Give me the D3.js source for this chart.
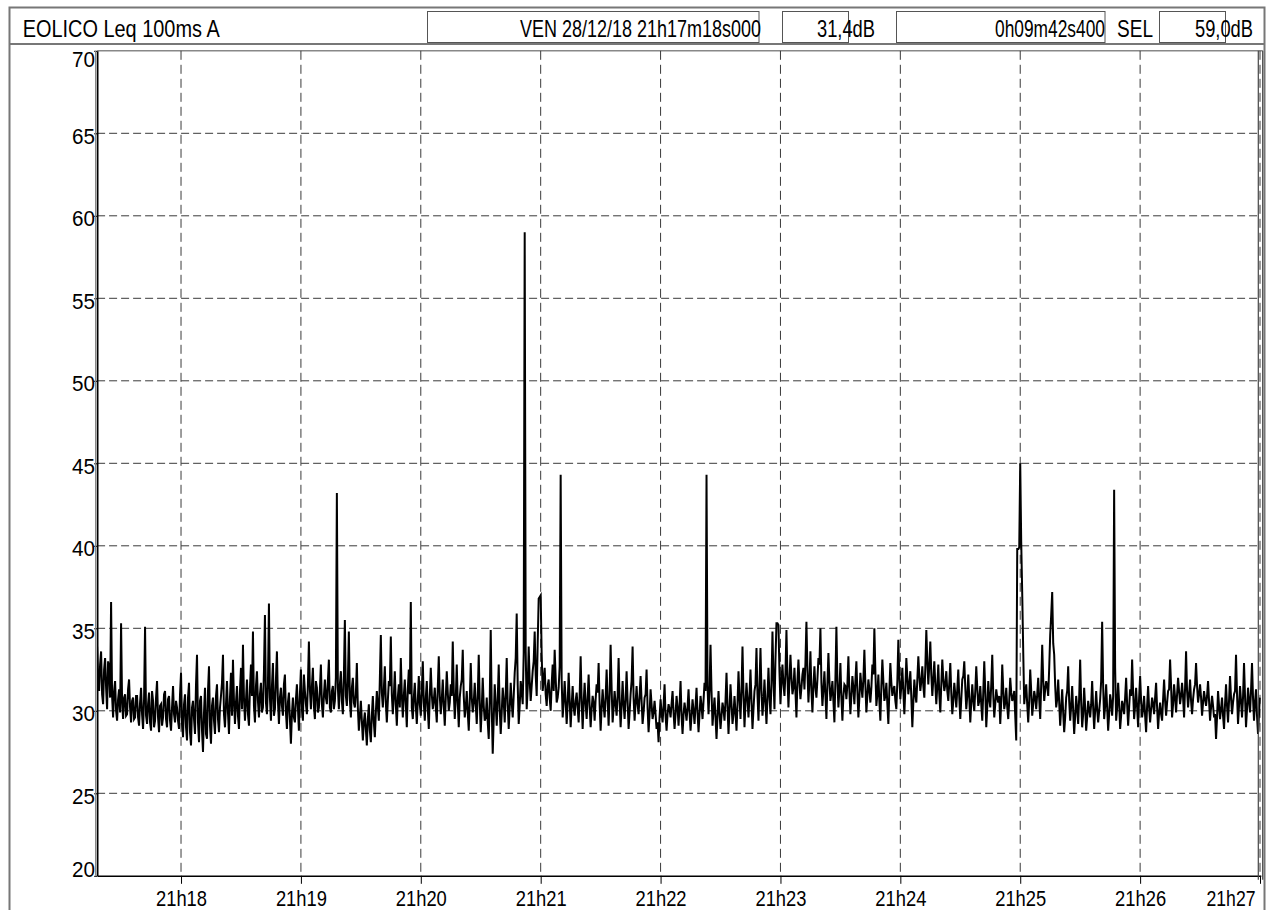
<!DOCTYPE html>
<html><head><meta charset="utf-8">
<script src="https://cdn.jsdelivr.net/npm/d3@7"></script>
<style>html,body{margin:0;padding:0;background:#fff;}svg{display:block;}</style>
</head><body>
<svg id="chart" width="1268" height="910"></svg>
<script>
// ---------- data ----------
const title = "EOLICO Leq 100ms A";
const headerFields = ["VEN 28/12/18 21h17m18s000", "31,4dB", "0h09m42s400", "SEL", "59,0dB"];
const startTime = Date.UTC(2018, 11, 28, 21, 17, 18);
const stepMs = 1000;
const durationMs = 582400;
const yTicks = [20, 25, 30, 35, 40, 45, 50, 55, 60, 65, 70];
// readings on each whole second
const levels = [
33.9,31.2,33.6,30.4,33.2,30.1,32.6,36.6,29.6,31.8,29.4,31.3,35.3,29.5,31.0,29.8,31.9,29.3,30.8,29.6,
30.9,29.1,31.4,28.9,35.1,29.2,31.1,28.8,30.6,29.4,31.8,28.7,30.4,29.6,31.2,29.0,30.9,28.8,31.5,29.3,
30.2,28.9,32.3,28.4,31.0,28.2,31.7,27.9,30.6,28.6,33.4,28.1,30.9,27.5,31.4,28.3,32.7,28.0,30.8,28.6,
31.6,28.7,30.9,33.4,29.0,31.8,28.6,32.3,33.1,29.2,31.5,28.9,32.6,34.0,29.4,31.9,29.1,32.8,34.8,29.3,
32.4,29.6,31.7,30.2,35.8,29.8,36.5,29.4,32.9,30.1,33.6,29.2,31.4,29.7,32.2,28.9,31.1,28.0,30.8,29.3,
31.6,28.8,32.5,29.4,31.2,29.8,34.2,30.1,32.6,29.5,31.4,30.2,32.8,29.6,31.9,30.4,33.1,29.9,31.5,30.6,
43.2,30.1,32.4,29.8,35.5,30.3,34.8,29.6,32.0,30.2,32.9,28.8,30.6,28.2,29.9,27.9,30.4,28.1,30.9,28.4,
31.2,29.4,34.6,30.2,32.7,29.3,31.8,34.5,29.8,32.4,29.1,31.6,33.2,29.6,31.9,29.0,32.5,36.6,29.5,31.7,
29.2,32.1,29.7,33.0,29.4,31.8,28.9,32.6,30.1,31.4,29.3,33.3,29.8,31.9,29.1,32.4,30.0,31.6,34.2,29.5,
32.8,29.0,31.5,33.7,29.6,31.2,28.8,32.9,29.9,31.7,29.2,33.4,28.7,32.0,29.4,30.8,28.3,34.9,27.4,31.6,
29.1,32.8,28.6,31.4,29.3,33.2,28.9,31.7,29.6,32.3,35.9,29.2,31.8,30.4,59.0,30.1,33.9,30.6,32.4,34.8,
30.9,36.8,37.0,31.2,32.6,30.3,31.9,30.0,32.8,33.7,30.5,31.4,44.3,29.6,31.8,29.2,32.3,29.0,31.5,29.7,
31.1,29.3,33.3,28.9,31.7,29.5,32.2,29.0,30.9,29.4,31.6,32.9,28.8,31.3,29.6,32.5,29.1,34.0,29.3,31.2,
29.7,33.2,29.0,31.8,29.5,32.4,28.9,31.0,33.9,29.4,31.5,29.8,32.1,29.2,30.8,32.5,28.7,31.3,29.5,30.6,
28.9,28.1,30.7,29.3,31.6,28.8,30.4,29.6,31.2,28.9,30.9,29.1,31.8,28.6,30.5,29.4,31.3,28.8,30.7,29.2,
31.4,28.7,30.9,29.5,31.7,44.3,29.8,34.0,29.1,30.8,28.3,31.2,28.9,30.5,29.4,32.3,28.6,31.6,29.2,30.9,
28.8,32.4,29.5,33.9,29.0,31.7,29.6,32.5,28.9,31.2,33.8,29.4,33.8,29.7,31.9,29.2,32.6,29.8,34.8,30.1,
35.3,35.2,30.4,32.8,30.9,34.9,30.2,33.4,31.0,32.6,29.6,33.1,30.7,32.2,31.3,35.4,30.5,33.6,29.9,32.7,
30.8,33.2,35.0,30.3,32.4,29.5,33.5,30.6,31.8,29.3,35.1,30.2,32.9,29.4,31.6,30.7,33.3,29.8,32.1,30.4,
33.0,29.6,32.3,30.8,33.7,29.9,31.9,30.5,32.8,35.0,30.3,32.2,29.4,33.1,30.6,31.7,29.2,32.9,30.9,31.5,
30.1,34.3,30.7,32.6,29.8,33.2,31.0,32.4,29.0,31.9,30.5,33.3,31.2,32.7,30.8,34.9,31.6,34.2,30.9,33.0,
30.4,32.8,29.9,33.1,31.2,32.4,30.6,32.9,29.8,31.7,30.2,32.5,29.5,31.9,33.0,30.1,32.2,29.3,31.6,30.0,
32.7,30.3,31.5,29.4,33.0,29.0,31.8,30.2,33.4,29.6,31.3,30.5,29.2,32.8,30.1,31.4,29.5,32.0,30.6,31.2,
28.2,39.8,45.0,37.1,30.4,31.6,29.3,32.5,29.7,31.2,30.1,32.0,29.5,34.0,30.6,31.8,30.9,34.6,37.2,33.4,
30.2,31.9,29.1,31.3,28.7,30.8,32.7,29.4,31.5,28.6,30.9,29.2,33.1,29.0,31.4,28.8,30.6,29.6,31.8,28.9,
31.2,29.3,30.7,35.4,29.5,31.6,28.8,31.0,29.7,43.4,29.4,31.7,28.9,30.6,29.8,32.0,29.1,31.3,33.1,29.5,
31.4,29.0,32.1,29.6,30.9,28.7,31.5,29.3,30.8,29.8,31.7,28.9,30.5,29.4,31.9,29.7,31.2,33.1,29.6,31.6,
29.9,32.0,30.4,31.7,29.6,33.6,30.2,31.9,29.8,31.3,32.9,30.5,31.6,29.7,31.2,30.3,31.8,29.4,30.9,29.6,
28.3,31.2,29.5,30.8,28.9,31.6,29.3,32.1,29.8,31.0,33.4,29.2,31.5,29.6,32.9,29.0,31.4,29.9,32.9,29.4,
31.3,28.6,30.8
];
// readings half a second after each whole second
const halfLevels = [
32.1,32.8,31.0,32.5,31.4,33.0,30.8,30.9,31.2,30.0,30.7,29.9,30.6,30.8,29.7,31.3,30.2,30.6,29.5,30.9,
29.6,30.5,29.8,30.7,29.7,30.4,29.3,31.2,29.0,30.8,29.6,30.3,29.1,31.0,29.5,30.7,29.4,30.2,29.8,30.6,
29.4,31.0,29.2,30.4,29.0,30.8,28.7,30.2,29.5,31.6,29.3,30.6,28.8,29.9,28.6,31.2,29.1,30.3,29.4,30.9,
29.5,30.2,31.7,29.8,30.4,29.9,30.8,29.7,30.6,30.5,29.7,31.2,30.1,30.8,30.6,29.8,31.4,30.9,30.3,31.5,
30.6,31.0,29.9,32.4,30.5,31.6,30.8,31.5,29.7,31.9,30.6,30.8,30.3,31.6,29.9,30.5,29.5,29.8,29.6,30.7,
30.2,31.0,30.1,32.2,30.4,31.6,31.3,31.5,30.3,31.8,29.9,31.3,30.4,30.9,30.8,31.8,30.2,31.2,30.1,32.0,
31.4,31.6,30.6,32.1,30.9,31.8,30.7,31.4,30.5,31.0,30.2,29.7,29.4,29.3,28.9,29.5,28.8,29.7,29.3,29.9,
30.3,31.9,31.1,31.3,30.5,30.6,31.5,31.0,30.9,30.4,30.8,30.2,31.0,30.9,30.4,31.3,31.0,30.2,30.8,30.3,
30.6,30.4,31.2,30.5,30.8,30.1,30.9,31.0,30.6,30.2,31.4,30.9,30.7,30.3,30.8,31.1,30.5,30.9,31.2,30.7,
30.5,30.8,31.9,30.9,30.2,29.9,30.6,30.8,30.5,30.4,30.9,30.6,30.1,30.3,29.6,29.3,30.6,30.2,29.5,30.4,
30.7,30.1,29.9,30.6,31.0,30.4,30.2,30.5,30.9,33.2,31.6,30.3,31.2,33.5,33.6,31.4,31.8,31.5,33.0,32.2,
34.1,36.9,33.4,31.9,31.0,31.5,30.8,31.6,31.2,32.0,30.8,32.7,31.9,30.5,30.6,30.4,30.7,30.3,30.2,30.6,
30.2,30.9,30.6,30.5,30.4,30.8,30.3,30.1,30.5,30.7,31.1,30.4,30.2,30.3,30.8,30.7,31.0,31.4,30.2,30.4,
30.9,30.6,30.3,30.4,30.7,30.6,29.9,31.8,30.8,30.5,30.4,30.9,30.6,29.9,31.0,30.2,29.8,30.4,29.9,29.8,
29.3,29.6,29.9,30.3,29.7,29.8,30.1,30.4,29.9,29.8,30.2,30.3,29.7,29.8,30.0,30.2,29.9,29.7,30.0,30.3,
29.9,29.8,30.3,30.6,31.2,31.5,31.3,31.2,30.0,29.6,29.7,29.9,29.7,30.1,30.6,30.3,30.1,30.4,29.8,29.9,
30.4,30.8,31.2,31.0,30.5,30.7,30.9,30.6,30.1,31.6,31.0,31.5,31.2,30.6,30.5,30.8,30.9,31.6,32.0,33.1,
35.3,32.4,31.8,31.6,32.3,32.1,31.9,32.0,31.4,31.2,31.8,31.7,31.4,32.6,32.9,32.5,31.8,31.2,31.5,31.4,
31.9,32.8,31.7,31.3,31.0,31.6,31.8,31.1,30.6,31.9,31.8,31.3,30.8,30.9,31.5,31.6,31.2,30.9,31.4,31.8,
31.2,30.8,31.5,31.9,31.6,30.9,31.3,31.4,32.2,32.4,31.0,30.6,31.5,31.8,30.9,30.4,31.2,31.7,31.3,30.6,
31.8,32.0,31.5,31.2,31.3,32.0,31.6,30.8,30.5,31.0,31.9,32.1,31.8,31.5,32.6,33.0,32.8,32.2,31.9,31.6,
31.5,31.0,31.6,31.9,31.6,31.2,31.7,31.1,30.6,31.0,31.3,30.8,30.7,32.1,31.4,30.9,30.8,30.5,30.6,31.2,
31.4,30.6,30.4,31.1,31.2,30.2,30.7,31.6,31.0,30.4,30.8,30.9,30.6,31.3,30.5,30.2,30.6,31.1,30.8,29.7,
39.8,39.9,40.2,33.6,31.1,30.4,30.6,31.2,30.4,30.8,31.0,30.7,31.6,31.9,31.3,31.5,32.6,35.8,34.1,31.5,
30.7,30.5,30.2,29.9,29.6,31.2,30.6,30.3,30.0,29.7,30.1,30.8,30.5,29.8,30.2,29.6,30.1,30.4,30.2,30.0,
30.1,30.0,31.8,31.5,30.3,30.2,29.8,30.5,30.9,32.6,30.2,30.5,29.7,30.3,30.8,30.4,30.2,30.9,31.2,30.3,
30.2,30.8,30.6,30.1,29.7,30.3,30.2,30.1,30.4,30.8,30.2,29.9,29.8,30.7,30.6,30.5,31.3,31.5,30.4,30.8,
31.0,31.2,30.9,30.8,31.4,31.2,31.0,30.6,30.7,31.6,31.5,31.0,30.8,30.5,30.7,30.9,30.6,30.2,30.3,29.8,
29.6,30.3,30.1,29.7,30.4,30.3,30.6,30.8,30.5,31.2,31.0,30.3,30.6,30.8,30.9,30.1,30.6,31.2,30.8,30.5,
29.7,29.8
];

// ---------- layout ----------
const svg = d3.select("#chart");
const FONT = "'Liberation Sans Narrow','Arial Narrow','Liberation Sans',Arial,sans-serif";
const plot = {left: 97.1, right: 1260.8, top: 50.8, bottom: 875.8};

const x = d3.scaleUtc()
  .domain([new Date(startTime), new Date(startTime + durationMs)])
  .range([plot.left, plot.right]);
const y = d3.scaleLinear().domain([20, 70]).range([plot.bottom, plot.top]);

// build the time series from the two reading arrays
const series = [];
levels.forEach((v, i) => {
  series.push({t: new Date(startTime + i * stepMs), v});
  if (i < halfLevels.length) series.push({t: new Date(startTime + i * stepMs + stepMs / 2), v: halfLevels[i]});
});

// outer frame + header
svg.append("rect").attr("x", 9.5).attr("y", 7.5).attr("width", 1255).attr("height", 940)
  .attr("fill", "none").attr("stroke", "#777").attr("stroke-width", 2);
svg.append("line").attr("x1", 9).attr("x2", 1265).attr("y1", 44).attr("y2", 44)
  .attr("stroke", "#777").attr("stroke-width", 2);

const boxes = [
  {x: 427.5, w: 331.5}, {x: 782.5, w: 66}, {x: 896.5, w: 208.5}, {x: 1159.5, w: 66}
];
svg.selectAll("rect.hbox").data(boxes).join("rect").attr("class", "hbox")
  .attr("x", d => d.x).attr("y", 11.5).attr("width", d => d.w).attr("height", 31)
  .attr("fill", "none").attr("stroke", "#555").attr("stroke-width", 1);

function txt(s, xx, yy, size, len, anchor) {
  const t = svg.append("text").attr("x", xx).attr("y", yy)
    .attr("font-family", FONT).attr("font-size", size).attr("fill", "#000")
    .text(s);
  if (len) t.attr("textLength", len).attr("lengthAdjust", "spacingAndGlyphs");
  if (anchor) t.attr("text-anchor", anchor);
  return t;
}
txt(title, 22.7, 37.3, 23, 197);
const headerPos = [{x: 520, len: 241}, {x: 817, len: 58}, {x: 995, len: 110}, {x: 1117, len: 36}, {x: 1195, len: 58}];
headerFields.forEach((s, i) => txt(s, headerPos[i].x, 37.3, 24, headerPos[i].len));

// plot frame
const g = svg.append("g");
g.append("line").attr("x1", plot.left).attr("x2", 1262.7).attr("y1", plot.top).attr("y2", plot.top)
  .attr("stroke", "#888").attr("stroke-width", 1.5);

// gridlines
const minuteTicks = x.ticks(d3.utcMinute.every(1));
g.selectAll("line.hgrid").data(yTicks.filter(v => v > 20 && v < 70)).join("line").attr("class", "hgrid")
  .attr("x1", plot.left).attr("x2", plot.right).attr("y1", d => y(d)).attr("y2", d => y(d))
  .attr("stroke", "#3a3a3a").attr("stroke-width", 1).attr("stroke-dasharray", "8,4");
g.selectAll("line.vgrid").data(minuteTicks).join("line").attr("class", "vgrid")
  .attr("x1", d => x(d)).attr("x2", d => x(d)).attr("y1", plot.top).attr("y2", plot.bottom)
  .attr("stroke", "#3a3a3a").attr("stroke-width", 1).attr("stroke-dasharray", "9,5");

// data line
svg.append("defs").append("clipPath").attr("id", "clip").append("rect")
  .attr("x", plot.left).attr("y", plot.top).attr("width", plot.right - plot.left).attr("height", plot.bottom - plot.top);
const line = d3.line().x(d => x(d.t)).y(d => y(d.v));
g.append("path").datum(series).attr("d", line).attr("clip-path", "url(#clip)")
  .attr("fill", "none").attr("stroke", "#000").attr("stroke-width", 2.0).attr("stroke-linejoin", "miter");

// x axis
const fmt = d => d.getUTCHours() + "h" + String(d.getUTCMinutes()).padStart(2, "0");
const xAxis = g.append("g").attr("transform", `translate(0,${plot.bottom})`)
  .call(d3.axisBottom(x).ticks(d3.utcMinute.every(1)).tickFormat(fmt).tickSize(8).tickSizeOuter(0));
xAxis.select(".domain").attr("stroke", "#000").attr("stroke-width", 1.5);
xAxis.selectAll(".tick line").attr("stroke", "#000");
const nT = minuteTicks.length;
xAxis.selectAll(".tick text")
  .attr("font-family", FONT).attr("font-size", 22).attr("fill", "#000")
  .attr("y", 30).attr("dy", 0)
  .attr("textLength", 51).attr("lengthAdjust", "spacingAndGlyphs")
  .each(function (d, i) {
    if (i === nT - 1) d3.select(this).attr("text-anchor", "end").attr("x", -5).attr("textLength", 49);
  });

// y axis
const yAxis = g.append("g").attr("transform", `translate(${plot.left},0)`)
  .call(d3.axisLeft(y).tickValues(yTicks).tickSize(3).tickSizeOuter(0));
yAxis.select(".domain").attr("stroke", "#000").attr("stroke-width", 1.8);
yAxis.selectAll(".tick line").attr("stroke", "#000");
yAxis.selectAll(".tick text")
  .attr("font-family", FONT).attr("font-size", 22).attr("fill", "#000")
  .attr("x", -2).attr("dy", 0)
  .attr("y", d => Math.max(66, Math.min(876, y(d) + 10)) - y(d))
  .attr("textLength", 23).attr("lengthAdjust", "spacingAndGlyphs");
g.append("line").attr("x1", 95.5).attr("x2", 95.5).attr("y1", plot.top).attr("y2", plot.bottom)
  .attr("stroke", "#888").attr("stroke-width", 1);

// right edge lines
[1258.3, 1262.7].forEach(xx => g.append("line").attr("x1", xx).attr("x2", xx)
  .attr("y1", plot.top).attr("y2", plot.bottom + 4).attr("stroke", "#444").attr("stroke-width", 1.2));
</script>
</body></html>
